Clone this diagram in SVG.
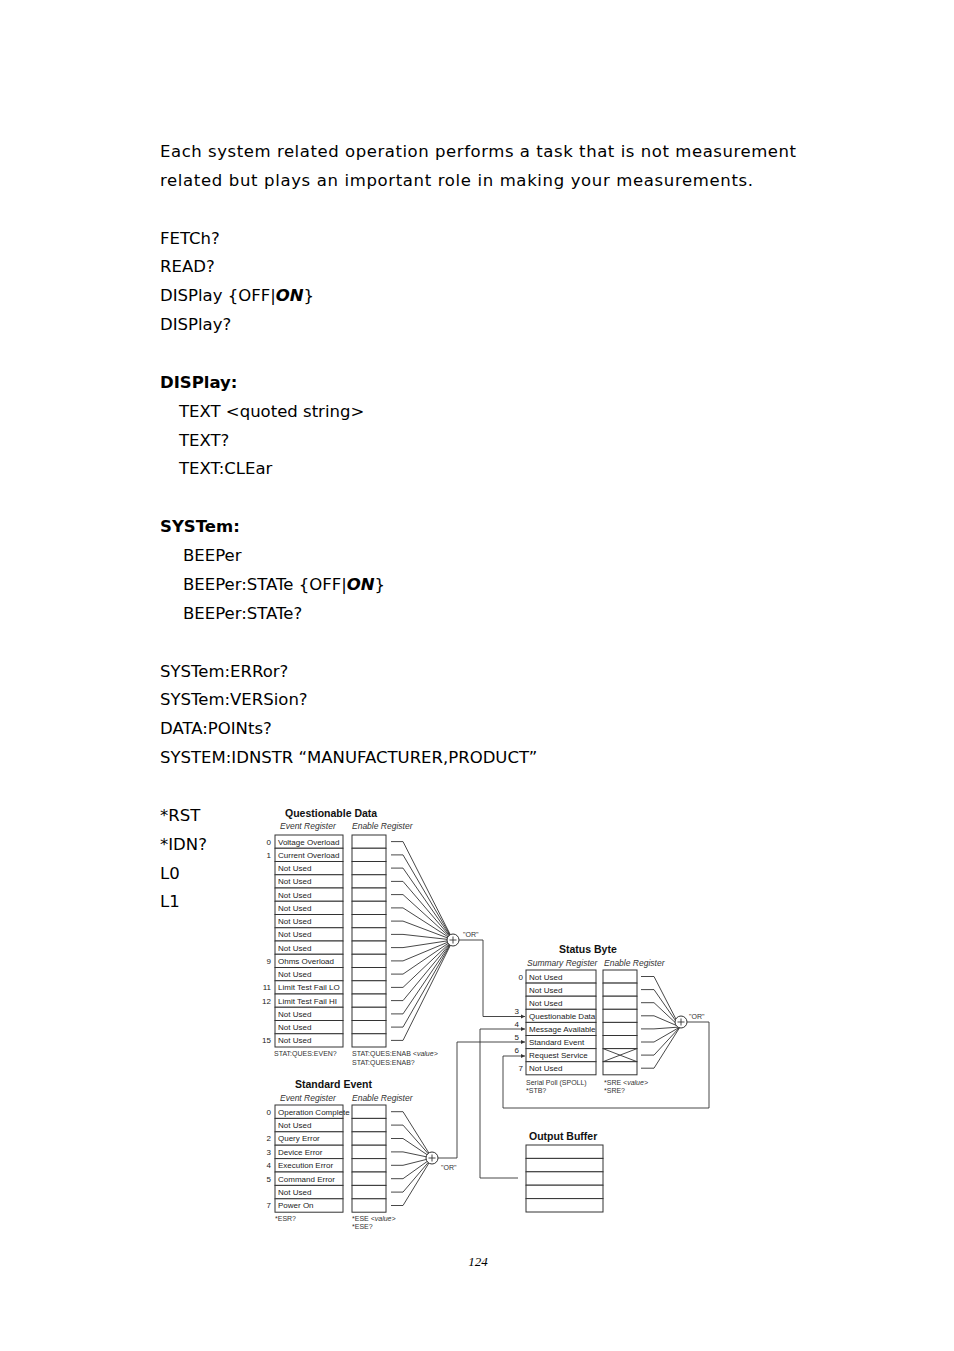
<svg xmlns="http://www.w3.org/2000/svg" width="954" height="1351" viewBox="0 0 954 1351">
<style>
.b{font-family:"DejaVu Sans",Verdana,sans-serif;font-size:16.5px;fill:#000}
.d{font-family:"Liberation Sans",Arial,sans-serif;font-size:8px;fill:#222}
.h{font-family:"Liberation Sans",Arial,sans-serif;font-size:10.5px;font-weight:bold;fill:#111}
.i{font-family:"Liberation Sans",Arial,sans-serif;font-size:8.5px;font-style:italic;fill:#333}
.s{font-family:"Liberation Sans",Arial,sans-serif;font-size:7px;fill:#333}
.r{fill:#fff;stroke:#333;stroke-width:1}
.l{fill:none;stroke:#333;stroke-width:0.9}
.c{fill:#fff;stroke:#333;stroke-width:1}
</style>
<defs><marker id="a" markerWidth="6" markerHeight="6" refX="5" refY="3" orient="auto"><path d="M0,0.5 L5,3 L0,5.5z" fill="#333"/></marker></defs>
<rect width="954" height="1351" fill="#fff"/>
<g id="text">
<text class="b" x="160" y="157" textLength="636">Each system related operation performs a task that is not measurement</text>
<text class="b" x="160" y="186" textLength="593">related but plays an important role in making your measurements.</text>
<text class="b" x="160" y="244">FETCh?</text>
<text class="b" x="160" y="272">READ?</text>
<text class="b" x="160" y="301">DISPlay {OFF|<tspan font-weight="bold" font-style="italic">ON</tspan>}</text>
<text class="b" x="160" y="330">DISPlay?</text>
<text class="b" x="160" y="388" font-weight="bold">DISPlay:</text>
<text class="b" x="179" y="417">TEXT &lt;quoted string&gt;</text>
<text class="b" x="179" y="446">TEXT?</text>
<text class="b" x="179" y="474">TEXT:CLEar</text>
<text class="b" x="160" y="532" font-weight="bold">SYSTem:</text>
<text class="b" x="183" y="561">BEEPer</text>
<text class="b" x="183" y="590">BEEPer:STATe {OFF|<tspan font-weight="bold" font-style="italic">ON</tspan>}</text>
<text class="b" x="183" y="619">BEEPer:STATe?</text>
<text class="b" x="160" y="677">SYSTem:ERRor?</text>
<text class="b" x="160" y="705">SYSTem:VERSion?</text>
<text class="b" x="160" y="734">DATA:POINts?</text>
<text class="b" x="160" y="763">SYSTEM:IDNSTR “MANUFACTURER,PRODUCT”</text>
<text class="b" x="160" y="821">*RST</text>
<text class="b" x="160" y="850">*IDN?</text>
<text class="b" x="160" y="879">L0</text>
<text class="b" x="160" y="907">L1</text>
<text x="478" y="1266" text-anchor="middle" font-family="Liberation Serif,serif" font-style="italic" font-size="13">124</text>
</g>
<g id="questionable">
<text class="h" x="285" y="817">Questionable Data</text>
<text class="i" x="280" y="829">Event Register</text>
<text class="i" x="352" y="829">Enable Register</text>
<g class="r">
<rect x="275" y="835" width="68" height="13.25"/><rect x="275" y="848.25" width="68" height="13.25"/><rect x="275" y="861.5" width="68" height="13.25"/><rect x="275" y="874.75" width="68" height="13.25"/><rect x="275" y="888" width="68" height="13.25"/><rect x="275" y="901.25" width="68" height="13.25"/><rect x="275" y="914.5" width="68" height="13.25"/><rect x="275" y="927.75" width="68" height="13.25"/><rect x="275" y="941" width="68" height="13.25"/><rect x="275" y="954.25" width="68" height="13.25"/><rect x="275" y="967.5" width="68" height="13.25"/><rect x="275" y="980.75" width="68" height="13.25"/><rect x="275" y="994" width="68" height="13.25"/><rect x="275" y="1007.25" width="68" height="13.25"/><rect x="275" y="1020.5" width="68" height="13.25"/><rect x="275" y="1033.75" width="68" height="13.25"/>
<rect x="352" y="835" width="34" height="13.25"/><rect x="352" y="848.25" width="34" height="13.25"/><rect x="352" y="861.5" width="34" height="13.25"/><rect x="352" y="874.75" width="34" height="13.25"/><rect x="352" y="888" width="34" height="13.25"/><rect x="352" y="901.25" width="34" height="13.25"/><rect x="352" y="914.5" width="34" height="13.25"/><rect x="352" y="927.75" width="34" height="13.25"/><rect x="352" y="941" width="34" height="13.25"/><rect x="352" y="954.25" width="34" height="13.25"/><rect x="352" y="967.5" width="34" height="13.25"/><rect x="352" y="980.75" width="34" height="13.25"/><rect x="352" y="994" width="34" height="13.25"/><rect x="352" y="1007.25" width="34" height="13.25"/><rect x="352" y="1020.5" width="34" height="13.25"/><rect x="352" y="1033.75" width="34" height="13.25"/>
</g>
<text class="d" x="278" y="844.5">Voltage Overload</text><text class="d" x="278" y="857.7">Current Overload</text><text class="d" x="278" y="871">Not Used</text><text class="d" x="278" y="884.2">Not Used</text><text class="d" x="278" y="897.5">Not Used</text><text class="d" x="278" y="910.7">Not Used</text><text class="d" x="278" y="924">Not Used</text><text class="d" x="278" y="937.2">Not Used</text><text class="d" x="278" y="950.5">Not Used</text><text class="d" x="278" y="963.7">Ohms Overload</text><text class="d" x="278" y="977">Not Used</text><text class="d" x="278" y="990.2">Limit Test Fail LO</text><text class="d" x="278" y="1003.5">Limit Test Fail HI</text><text class="d" x="278" y="1016.7">Not Used</text><text class="d" x="278" y="1030">Not Used</text><text class="d" x="278" y="1043.2">Not Used</text>
<g class="d" text-anchor="end"><text x="271" y="844.5">0</text><text x="271" y="857.7">1</text><text x="271" y="963.7">9</text><text x="271" y="990.2">11</text><text x="271" y="1003.5">12</text><text x="271" y="1043.2">15</text></g>
<text class="s" x="274" y="1056">STAT:QUES:EVEN?</text>
<text class="s" x="352" y="1056">STAT:QUES:ENAB <tspan font-style="italic">&lt;value&gt;</tspan></text>
<text class="s" x="352" y="1065">STAT:QUES:ENAB?</text>
<g class="l">
<polyline points="391,841.6 403,841.6 453,940"/><polyline points="391,854.9 403,854.9 453,940"/><polyline points="391,868.1 403,868.1 453,940"/><polyline points="391,881.4 403,881.4 453,940"/><polyline points="391,894.6 403,894.6 453,940"/><polyline points="391,907.9 403,907.9 453,940"/><polyline points="391,921.1 403,921.1 453,940"/><polyline points="391,934.4 403,934.4 453,940"/><polyline points="391,947.6 403,947.6 453,940"/><polyline points="391,960.9 403,960.9 453,940"/><polyline points="391,974.1 403,974.1 453,940"/><polyline points="391,987.4 403,987.4 453,940"/><polyline points="391,1000.6 403,1000.6 453,940"/><polyline points="391,1013.9 403,1013.9 453,940"/><polyline points="391,1027.1 403,1027.1 453,940"/><polyline points="391,1040.4 403,1040.4 453,940"/>
</g>
<circle class="c" cx="453" cy="940" r="6"/>
<path class="l" d="M449.5,940h7M453,936.5v7"/>
<text class="s" x="463" y="937">"OR"</text>
</g>
<g id="status">
<text class="h" x="559" y="953">Status Byte</text>
<text class="i" x="527" y="966">Summary Register</text>
<text class="i" x="604" y="966">Enable Register</text>
<g class="r">
<rect x="526" y="970" width="70" height="13.1"/><rect x="526" y="983.1" width="70" height="13.1"/><rect x="526" y="996.2" width="70" height="13.1"/><rect x="526" y="1009.3" width="70" height="13.1"/><rect x="526" y="1022.4" width="70" height="13.1"/><rect x="526" y="1035.5" width="70" height="13.1"/><rect x="526" y="1048.6" width="70" height="13.1"/><rect x="526" y="1061.7" width="70" height="13.1"/>
<rect x="603" y="970" width="34" height="13.1"/><rect x="603" y="983.1" width="34" height="13.1"/><rect x="603" y="996.2" width="34" height="13.1"/><rect x="603" y="1009.3" width="34" height="13.1"/><rect x="603" y="1022.4" width="34" height="13.1"/><rect x="603" y="1035.5" width="34" height="13.1"/><rect x="603" y="1048.6" width="34" height="13.1"/><rect x="603" y="1061.7" width="34" height="13.1"/>
</g>
<path class="l" d="M603,1048.6L637,1061.7M637,1048.6L603,1061.7"/>
<text class="d" x="529" y="979.5">Not Used</text><text class="d" x="529" y="992.6">Not Used</text><text class="d" x="529" y="1005.7">Not Used</text><text class="d" x="529" y="1018.8">Questionable Data</text><text class="d" x="529" y="1031.9">Message Available</text><text class="d" x="529" y="1045">Standard Event</text><text class="d" x="529" y="1058.1">Request Service</text><text class="d" x="529" y="1071.2">Not Used</text>
<g class="d" text-anchor="end"><text x="523" y="979.5">0</text><text x="519" y="1014">3</text><text x="519" y="1027">4</text><text x="519" y="1040">5</text><text x="519" y="1053">6</text><text x="523" y="1071.2">7</text></g>
<text class="s" x="526" y="1085">Serial Poll (SPOLL)</text>
<text class="s" x="526" y="1093">*STB?</text>
<text class="s" x="604" y="1085">*SRE <tspan font-style="italic">&lt;value&gt;</tspan></text>
<text class="s" x="604" y="1093">*SRE?</text>
<g class="l">
<polyline points="641,976.5 654,976.5 680,1027"/><polyline points="641,989.6 654,989.6 680,1027"/><polyline points="641,1002.7 654,1002.7 680,1027"/><polyline points="641,1015.8 654,1015.8 680,1027"/><polyline points="641,1028.9 654,1028.9 680,1027"/><polyline points="641,1042 654,1042 680,1027"/><polyline points="641,1055.1 654,1055.1 680,1027"/><polyline points="641,1068.2 654,1068.2 680,1027"/>
</g>
<circle class="c" cx="681" cy="1022" r="6"/>
<path class="l" d="M677.5,1022h7M681,1018.5v7"/>
<text class="s" x="689" y="1019">"OR"</text>
</g>
<g id="standard">
<text class="h" x="295" y="1088">Standard Event</text>
<text class="i" x="280" y="1101">Event Register</text>
<text class="i" x="352" y="1101">Enable Register</text>
<g class="r">
<rect x="275" y="1105" width="68" height="13.4"/><rect x="275" y="1118.4" width="68" height="13.4"/><rect x="275" y="1131.8" width="68" height="13.4"/><rect x="275" y="1145.2" width="68" height="13.4"/><rect x="275" y="1158.6" width="68" height="13.4"/><rect x="275" y="1172" width="68" height="13.4"/><rect x="275" y="1185.4" width="68" height="13.4"/><rect x="275" y="1198.8" width="68" height="13.4"/>
<rect x="352" y="1105" width="34" height="13.4"/><rect x="352" y="1118.4" width="34" height="13.4"/><rect x="352" y="1131.8" width="34" height="13.4"/><rect x="352" y="1145.2" width="34" height="13.4"/><rect x="352" y="1158.6" width="34" height="13.4"/><rect x="352" y="1172" width="34" height="13.4"/><rect x="352" y="1185.4" width="34" height="13.4"/><rect x="352" y="1198.8" width="34" height="13.4"/>
</g>
<text class="d" x="278" y="1114.6">Operation Complete</text><text class="d" x="278" y="1128">Not Used</text><text class="d" x="278" y="1141.4">Query Error</text><text class="d" x="278" y="1154.8">Device Error</text><text class="d" x="278" y="1168.2">Execution Error</text><text class="d" x="278" y="1181.6">Command Error</text><text class="d" x="278" y="1195">Not Used</text><text class="d" x="278" y="1208.4">Power On</text>
<g class="d" text-anchor="end"><text x="271" y="1114.6">0</text><text x="271" y="1141.4">2</text><text x="271" y="1154.8">3</text><text x="271" y="1168.2">4</text><text x="271" y="1181.6">5</text><text x="271" y="1208.4">7</text></g>
<text class="s" x="275" y="1221">*ESR?</text>
<text class="s" x="352" y="1221">*ESE <tspan font-style="italic">&lt;value&gt;</tspan></text>
<text class="s" x="352" y="1229">*ESE?</text>
<g class="l">
<polyline points="391,1111.7 403,1111.7 432,1158"/><polyline points="391,1125.1 403,1125.1 432,1158"/><polyline points="391,1138.5 403,1138.5 432,1158"/><polyline points="391,1151.9 403,1151.9 432,1158"/><polyline points="391,1165.3 403,1165.3 432,1158"/><polyline points="391,1178.7 403,1178.7 432,1158"/><polyline points="391,1192.1 403,1192.1 432,1158"/><polyline points="391,1205.5 403,1205.5 432,1158"/>
</g>
<circle class="c" cx="432" cy="1158" r="6"/>
<path class="l" d="M428.5,1158h7M432,1154.5v7"/>
<text class="s" x="441" y="1170">"OR"</text>
</g>
<g id="output">
<text class="h" x="529" y="1140">Output Buffer</text>
<g class="r">
<rect x="526" y="1145" width="77" height="13.4"/><rect x="526" y="1158.4" width="77" height="13.4"/><rect x="526" y="1171.8" width="77" height="13.4"/><rect x="526" y="1185.2" width="77" height="13.4"/><rect x="526" y="1198.6" width="77" height="13.4"/>
</g>
</g>
<g id="connectors" class="l">
<polyline points="459,940 483,940 483,1016.5 525,1016.5" marker-end="url(#a)"/>
<polyline points="518,1178 480,1178 480,1029 525,1029" marker-end="url(#a)"/>
<polyline points="438,1158 457,1158 457,1042 525,1042" marker-end="url(#a)"/>
<polyline points="687,1022 709,1022 709,1108 503,1108 503,1056 525,1056" marker-end="url(#a)"/>
</g>
</svg>
